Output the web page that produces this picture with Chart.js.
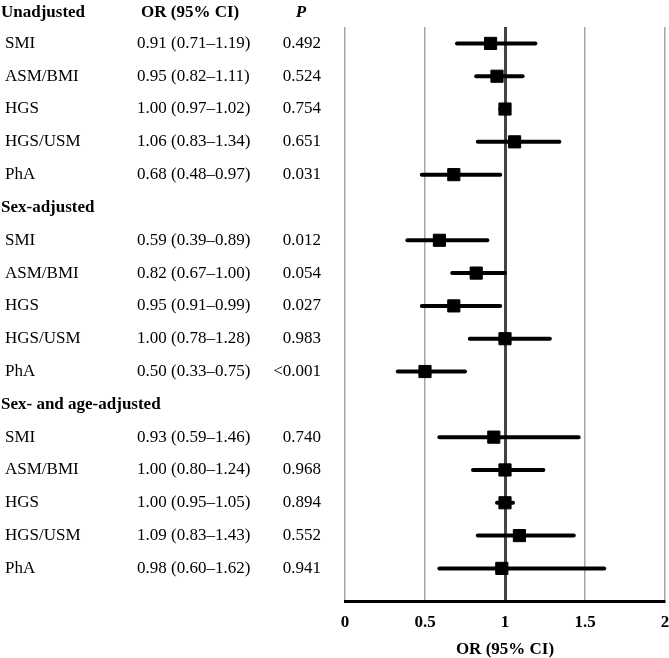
<!DOCTYPE html>
<html>
<head>
<meta charset="utf-8">
<script src="https://cdn.jsdelivr.net/npm/chart.js@4.4.1/dist/chart.umd.min.js"></script>
<style>
    html, body { margin: 0; padding: 0; background: #ffffff; }
    #wrap { width: 669px; height: 658px; position: relative; }
</style>
</head>
<body>
<div id="wrap"><canvas id="forest"></canvas></div>
<script>
// Groups and measures shown in the table
const groups = ['Unadjusted', 'Sex-adjusted', 'Sex- and age-adjusted'];
const measures = ['SMI', 'ASM/BMI', 'HGS', 'HGS/USM', 'PhA'];

// Table text (as printed)
const orText = [
    '0.91 (0.71\u20131.19)', '0.95 (0.82\u20131.11)', '1.00 (0.97\u20131.02)', '1.06 (0.83\u20131.34)', '0.68 (0.48\u20130.97)',
    '0.59 (0.39\u20130.89)', '0.82 (0.67\u20131.00)', '0.95 (0.91\u20130.99)', '1.00 (0.78\u20131.28)', '0.50 (0.33\u20130.75)',
    '0.93 (0.59\u20131.46)', '1.00 (0.80\u20131.24)', '1.00 (0.95\u20131.05)', '1.09 (0.83\u20131.43)', '0.98 (0.60\u20131.62)'
];
const pText = [
    '0.492', '0.524', '0.754', '0.651', '0.031',
    '0.012', '0.054', '0.027', '0.983', '<0.001',
    '0.740', '0.968', '0.894', '0.552', '0.941'
];

// Plotted markers and whiskers
const orPlot = [0.91, 0.95, 1.00, 1.06, 0.68, 0.59, 0.82, 0.68, 1.00, 0.50, 0.93, 1.00, 1.00, 1.09, 0.98];
const ciLow  = [0.70, 0.82, 0.97, 0.83, 0.48, 0.39, 0.67, 0.48, 0.78, 0.33, 0.59, 0.80, 0.95, 0.83, 0.59];
const ciHigh = [1.19, 1.11, 1.02, 1.34, 0.97, 0.89, 1.00, 0.97, 1.28, 0.75, 1.46, 1.24, 1.05, 1.43, 1.62];

// x axis tick labels
const xTicks = ['0', '0.5', '1', '1.5', '2'];

const FONT = '"Liberation Serif", "Times New Roman", serif';

// row number for each estimate (header rows sit at 0, 6, 12)
const rowOf = i => Math.floor(i / 5) * 6 + (i % 5) + 1;

const ciDatasets = ciLow.map((lo, i) => ({
    type: 'line',
    data: [{ x: lo, y: rowOf(i) }, { x: ciHigh[i], y: rowOf(i) }],
    borderColor: '#000000',
    borderWidth: 4,
    borderCapStyle: 'round',
    pointRadius: 0,
    order: 2
}));

const pointDataset = {
    type: 'scatter',
    data: orPlot.map((v, i) => ({ x: v, y: rowOf(i) })),
    pointStyle: 'rect',
    pointRadius: 8.6,
    borderWidth: 1,
    backgroundColor: '#000000',
    borderColor: '#000000',
    order: 1
};

// Draws the table on the left side of the chart
const tablePlugin = {
    id: 'tableText',
    afterDraw(chart) {
        const ctx = chart.ctx;
        const y = chart.scales.y;
        ctx.save();
        ctx.fillStyle = '#000000';
        ctx.textBaseline = 'middle';

        // column headers
        ctx.font = 'bold 17px ' + FONT;
        ctx.textAlign = 'left';
        ctx.fillText(groups[0], 1, y.getPixelForValue(0) + 2);
        ctx.fillText('OR (95% CI)', 141, y.getPixelForValue(0) + 2);
        ctx.font = 'italic bold 17px ' + FONT;
        ctx.textAlign = 'center';
        ctx.fillText('P', 301, y.getPixelForValue(0) + 2);

        ctx.font = 'bold 17px ' + FONT;
        ctx.textAlign = 'left';
        ctx.fillText(groups[1], 1, y.getPixelForValue(6));
        ctx.fillText(groups[2], 1, y.getPixelForValue(12));

        ctx.font = '17px ' + FONT;
        orText.forEach((t, i) => {
            const py = y.getPixelForValue(rowOf(i));
            ctx.textAlign = 'left';
            ctx.fillText(measures[i % 5], 5, py);
            ctx.fillText(t, 137, py);
            ctx.textAlign = 'right';
            ctx.fillText(pText[i], 321, py);
        });
        ctx.restore();
    }
};

new Chart(document.getElementById('forest'), {
    data: { datasets: [...ciDatasets, pointDataset] },
    options: {
        responsive: true,
        maintainAspectRatio: false,
        animation: false,
        layout: {
            autoPadding: false,
            padding: { left: 345, right: 4, top: 27, bottom: 0 }
        },
        plugins: {
            legend: { display: false },
            tooltip: { enabled: false }
        },
        scales: {
            x: {
                type: 'linear',
                min: 0,
                max: 2,
                afterFit: scale => { scale.paddingRight = 0; },
                grid: {
                    drawTicks: false,
                    color: ctx => ctx.tick && ctx.tick.value === 1 ? '#444444' : '#a6a6a6',
                    lineWidth: ctx => ctx.tick && ctx.tick.value === 1 ? 3 : 1.5
                },
                border: { display: true, color: '#000000', width: 3 },
                ticks: {
                    stepSize: 0.5,
                    padding: 11,
                    color: '#000000',
                    font: { family: FONT, size: 17, weight: 'bold' },
                    callback: (v, idx) => xTicks[idx]
                },
                title: {
                    display: true,
                    text: 'OR (95% CI)',
                    color: '#000000',
                    font: { family: FONT, size: 17, weight: 'bold' },
                    padding: { top: -4, bottom: -2 }
                }
            },
            y: {
                type: 'linear',
                display: false,
                reverse: true,
                min: 0.5,
                max: 18
            }
        }
    },
    plugins: [tablePlugin]
});
</script>
</body>
</html>
